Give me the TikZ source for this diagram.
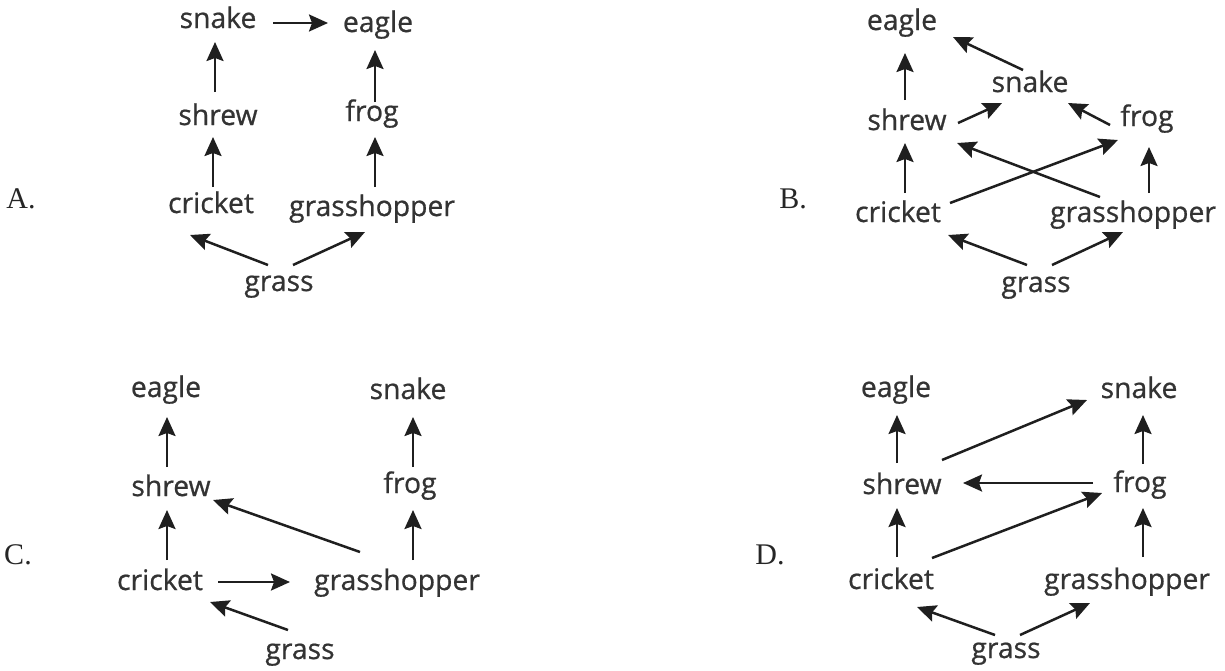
\documentclass[tikz,border=0pt]{standalone}
\usepackage{fontspec}
\setmainfont{Open Sans}
\newfontfamily\spfont{Open Sans}[FakeBold=0.7]
\newfontfamily\labfont{Liberation Serif}
\usetikzlibrary{calc,arrows.meta}
\newcommand\arrw[4]{\draw[fw] ($(#1.base)+(#2)$) -- ($(#3.base)+(#4)$);}
\begin{document}
\begin{tikzpicture}[x=1pt,y=-1pt,
  sp/.style={anchor=base,inner sep=0pt,text=black!80,font=\spfont\fontsize{28.3}{32}\selectfont},
  lab/.style={anchor=base,inner sep=0pt,text=black!85,font=\labfont\fontsize{30}{34}\selectfont},
  fw/.style={draw=black!88,line width=2.5pt,-{Stealth[length=19pt,width=17pt,inset=3pt]}}]
\useasboundingbox (0,0) rectangle (1225,670);
% ---------- A ----------
\node[lab] (LA) at (21,208) {A.};
\node[sp] (Asnake) at (218,28) {snake};
\node[sp] (Aeagle) at (378,32) {eagle};
\node[sp] (Ashrew) at (218,125) {shrew};
\node[sp] (Afrog) at (372,121) {frog};
\node[sp] (Acricket) at (211,213) {cricket};
\node[sp] (Agh) at (372,216) {grasshopper};
\node[sp] (Agrass) at (279,291) {grass};
\arrw{Asnake}{55,-5}{Aeagle}{-50,-9}
\arrw{Ashrew}{-3,-33}{Asnake}{-3,14}
\arrw{Afrog}{3,-19}{Aeagle}{-3,18}
\arrw{Acricket}{2,-26}{Ashrew}{-5,12}
\arrw{Agh}{3,-29}{Afrog}{3,16}
\arrw{Agrass}{-11,-26}{Acricket}{-21,22}
\arrw{Agrass}{14,-26}{Agh}{-7,16}
% ---------- B ----------
\node[lab] (LB) at (793,208) {B.};
\node[sp] (Beagle) at (902,30) {eagle};
\node[sp] (Bsnake) at (1030,92) {snake};
\node[sp] (Bshrew) at (907,130) {shrew};
\node[sp] (Bfrog) at (1147,126) {frog};
\node[sp] (Bcricket) at (898,222) {cricket};
\node[sp] (Bgh) at (1133,222) {grasshopper};
\node[sp] (Bgrass) at (1036,292) {grass};
\arrw{Bshrew}{-2,-30}{Beagle}{3,23}
\arrw{Bsnake}{-7,-22}{Beagle}{51,7}
\arrw{Bshrew}{51,-7}{Bsnake}{-28,11}
\arrw{Bfrog}{-37,-1}{Bsnake}{38,11}
\arrw{Bcricket}{7,-29}{Bshrew}{-2,13}
\arrw{Bgh}{16,-29}{Bfrog}{2,21}
\arrw{Bcricket}{52,-19}{Bfrog}{-29,14}
\arrw{Bgh}{-33,-25}{Bshrew}{50,13}
\arrw{Bgrass}{-9,-27}{Bcricket}{50,13}
\arrw{Bgrass}{16,-27}{Bgh}{-10,10}
% ---------- C ----------
\node[lab] (LC) at (18,564) {C.};
\node[sp] (Ceagle) at (166,397) {eagle};
\node[sp] (Csnake) at (408,399) {snake};
\node[sp] (Cshrew) at (171,496) {shrew};
\node[sp] (Cfrog) at (410,493) {frog};
\node[sp] (Ccricket) at (160,590) {cricket};
\node[sp] (Cgh) at (397,590) {grasshopper};
\node[sp] (Cgrass) at (300,659) {grass};
\arrw{Cshrew}{-4,-29}{Ceagle}{1,20}
\arrw{Cfrog}{3,-26}{Csnake}{5,18}
\arrw{Ccricket}{7,-30}{Cshrew}{-4,14}
\arrw{Cgh}{16,-30}{Cfrog}{3,17}
\arrw{Cgh}{-37,-38}{Cshrew}{42,4}
\arrw{Ccricket}{58,-8}{Cgh}{-107,-8}
\arrw{Cgrass}{-12,-29}{Ccricket}{50,12}
% ---------- D ----------
\node[lab] (LD) at (770,564) {D.};
\node[sp] (Deagle) at (896,397) {eagle};
\node[sp] (Dsnake) at (1139,398) {snake};
\node[sp] (Dshrew) at (902,494) {shrew};
\node[sp] (Dfrog) at (1140,492) {frog};
\node[sp] (Dcricket) at (891,589) {cricket};
\node[sp] (Dgh) at (1127,589) {grasshopper};
\node[sp] (Dgrass) at (1006,658) {grass};
\arrw{Dshrew}{-5,-31}{Deagle}{1,18}
\arrw{Dfrog}{3,-28}{Dsnake}{4,17}
\arrw{Dcricket}{6,-32}{Dshrew}{-5,14}
\arrw{Dgh}{16,-32}{Dfrog}{3,16}
\arrw{Dshrew}{40,-34}{Dsnake}{-52,2}
\arrw{Dfrog}{-47,-9}{Dshrew}{61,-11}
\arrw{Dcricket}{41,-31}{Dfrog}{-38,1}
\arrw{Dgrass}{-11,-23}{Dcricket}{26,18}
\arrw{Dgrass}{14,-23}{Dgh}{-37,14}
\end{tikzpicture}
\end{document}
